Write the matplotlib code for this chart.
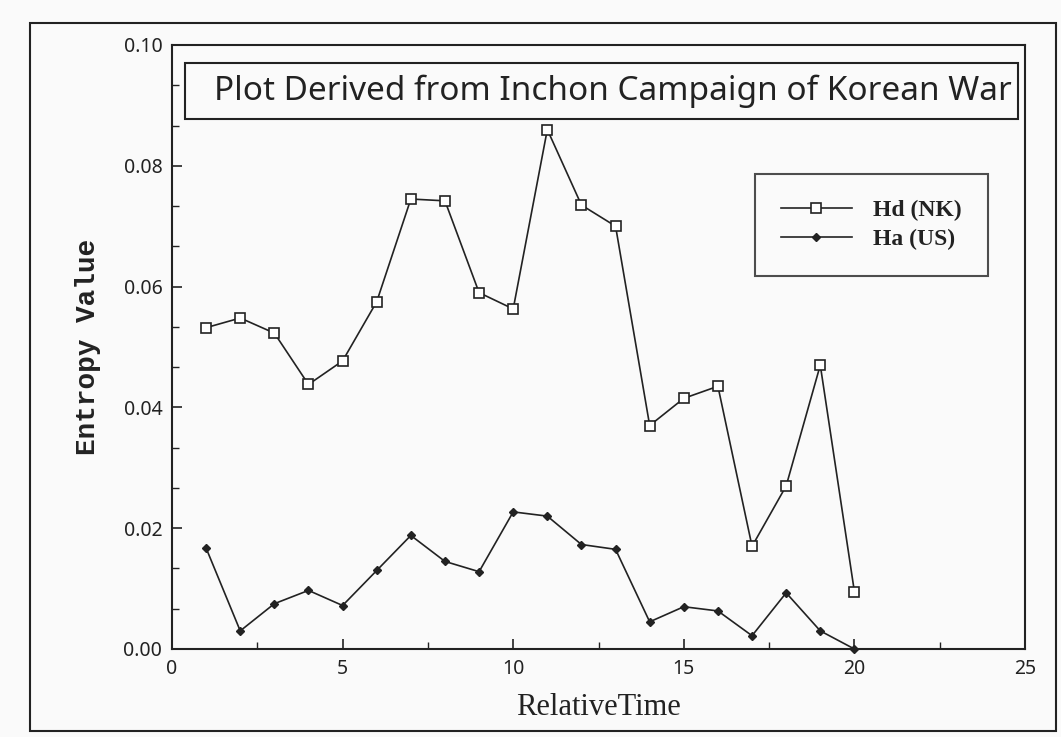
import matplotlib
matplotlib.use("Agg")
import matplotlib.pyplot as plt
from matplotlib.patches import Rectangle
from matplotlib.ticker import MultipleLocator

# Data
time = [1, 2, 3, 4, 5, 6, 7, 8, 9, 10, 11, 12, 13, 14, 15, 16, 17, 18, 19, 20]
hd_nk = [0.0532, 0.0548, 0.0523, 0.0438, 0.0477, 0.0575, 0.0745, 0.0742, 0.0590, 0.0563,
         0.0860, 0.0735, 0.0700, 0.0370, 0.0415, 0.0435, 0.0170, 0.0270, 0.0470, 0.0095]
ha_us = [0.0167, 0.0030, 0.0075, 0.0097, 0.0072, 0.0130, 0.0188, 0.0145, 0.0128, 0.0227,
         0.0220, 0.0173, 0.0165, 0.0045, 0.0070, 0.0063, 0.0022, 0.0093, 0.0030, 0.0000]
x_ticks = [0, 5, 10, 15, 20, 25]
y_ticks = [0.00, 0.02, 0.04, 0.06, 0.08, 0.10]
title = "Plot Derived from Inchon Campaign of Korean War"
labels = ["Hd (NK)", "Ha (US)"]

W, H = 1061, 737
fig = plt.figure(figsize=(W / 100, H / 100), dpi=100)
fig.patch.set_facecolor("#fafafa")

# outer frame around the whole plot
fig.patches.append(Rectangle((30 / W, 1 - 731 / H), (1056 - 30) / W, (731 - 23) / H,
                             transform=fig.transFigure, fill=False, lw=1.5, ec="#222222"))

ax = fig.add_axes([172 / W, 1 - 649 / H, (1025 - 172) / W, (649 - 45) / H])
ax.set_facecolor("#fafafa")

ax.plot(time, hd_nk, color="#222222", lw=1.2, marker="s", ms=7, mfc="white",
        mec="#222222", mew=1.2, label=labels[0])
ax.plot(time, ha_us, color="#222222", lw=1.2, marker="D", ms=4, mfc="#222222",
        mec="#222222", label=labels[1], clip_on=False)

ax.set_xlim(0, 25)
ax.set_ylim(0, 0.10)
ax.set_xticks(x_ticks)
ax.set_yticks(y_ticks)
ax.set_xticklabels([str(v) for v in x_ticks])
ax.set_yticklabels(["%.2f" % v for v in y_ticks])
ax.xaxis.set_minor_locator(MultipleLocator(2.5))
ax.yaxis.set_minor_locator(MultipleLocator(0.02 / 3))
ax.tick_params(which="both", direction="in", top=False, right=False, color="#222222")
ax.tick_params(which="major", length=7, width=1.2, labelsize=14, labelcolor="#222222", pad=7)
ax.tick_params(which="minor", length=5, width=1.0)
for lab in ax.get_xticklabels() + ax.get_yticklabels():
    lab.set_family("Noto Sans")
for sp in ax.spines.values():
    sp.set_linewidth(1.5)
    sp.set_color("#222222")

ax.set_ylabel("Entropy Value", fontsize=20, family="Liberation Mono", weight="bold",
              color="#222222", labelpad=16)
ax.set_xlabel("RelativeTime", fontsize=22, family="Liberation Serif", color="#222222",
              labelpad=10)

# boxed title inside the axes
ax.add_patch(Rectangle((0.015, 0.877), 0.977, 0.093, transform=ax.transAxes,
                       fill=True, fc="#fafafa", ec="#222222", lw=1.5, zorder=5))
ax.text(0.517, 0.923, title, transform=ax.transAxes, ha="center", va="center",
        fontsize=24, family="Noto Sans", color="#222222", zorder=6)

leg = ax.legend(loc="upper left", bbox_to_anchor=((755 - 172) / 853, (649 - 174) / 604),
                frameon=True, fancybox=False, edgecolor="#222222", facecolor="#fafafa",
                prop={"family": "Liberation Serif", "weight": "bold", "size": 17},
                handlelength=3.0, borderpad=1.1, handletextpad=0.9, labelspacing=0.3,
                borderaxespad=0)
leg.get_frame().set_linewidth(1.5)
for t in leg.get_texts():
    t.set_color("#222222")

fig.savefig("out.png", dpi=100, facecolor=fig.get_facecolor())
